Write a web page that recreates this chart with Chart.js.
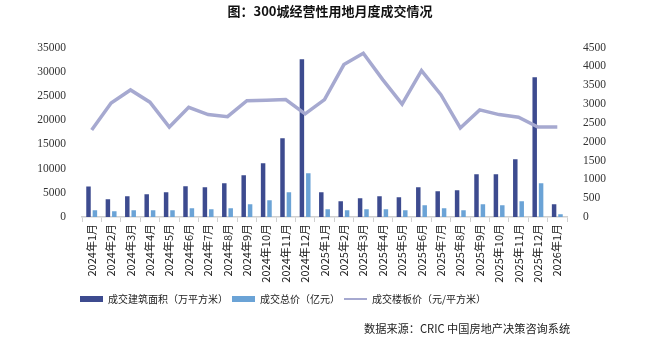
<!DOCTYPE html>
<html>
<head>
<meta charset="utf-8">
<script src="https://cdn.jsdelivr.net/npm/chart.js@4"></script>
<style>
  html, body { margin: 0; padding: 0; background: #ffffff; }
  #wrap { position: relative; width: 660px; height: 350px; }
  #source { position: absolute; left: 364px; top: 320px; font-family: "Noto Sans CJK SC", sans-serif; font-size: 11.2px; line-height: 16px; color: #222; white-space: nowrap; }
</style>
</head>
<body>
<div id="wrap">
  <canvas id="c" width="660" height="350"></canvas>
  <div id="source">数据来源：CRIC 中国房地产决策咨询系统</div>
</div>
<script>
const categories = [
  "2024年1月","2024年2月","2024年3月","2024年4月","2024年5月","2024年6月",
  "2024年7月","2024年8月","2024年9月","2024年10月","2024年11月","2024年12月",
  "2025年1月","2025年2月","2025年3月","2025年4月","2025年5月","2025年6月",
  "2025年7月","2025年8月","2025年9月","2025年10月","2025年11月","2025年12月",
  "2026年1月"
];
const areaValues = [
  6300, 3650, 4270, 4690, 5100, 6340, 6130, 6960, 8610, 11100, 16260, 32600,
  5100, 3240, 3860, 4270, 4070, 6130, 5310, 5510, 8820, 8820, 11920, 28880,
  2620
];
const totalPriceValues = [
  1380, 1170, 1380, 1380, 1380, 1790, 1590, 1790, 2620, 3450, 5100, 9030,
  1590, 1380, 1590, 1590, 1380, 2410, 1790, 1380, 2620, 2410, 3240, 6960,
  550
];
const floorPriceValues = [
  2310, 3030, 3375, 3050, 2390, 2915, 2720, 2665, 3090, 3100, 3120, 2740,
  3120, 4050, 4350, 3650, 3000, 3890, 3250, 2365, 2845, 2720, 2650, 2390,
  2390
];
const leftTicks = [0, 5000, 10000, 15000, 20000, 25000, 30000, 35000];
const rightTicks = [0, 500, 1000, 1500, 2000, 2500, 3000, 3500, 4000, 4500];
const seriesNames = ["成交建筑面积（万平方米）", "成交总价（亿元）", "成交楼板价（元/平方米）"];
const titleText = "图：300城经营性用地月度成交情况";

const numFont = { family: "'Liberation Serif', serif", size: 11.5 };

const legendShift = {
  id: "legendShift",
  afterLayout(chart) {
    if (chart.legend) { chart.legend.left = 76; }
  }
};

new Chart(document.getElementById("c"), {
  data: {
    labels: categories,
    datasets: [
      {
        type: "line",
        label: seriesNames[2],
        data: floorPriceValues,
        yAxisID: "yR",
        borderColor: "#a6a9d0",
        backgroundColor: "#a6a9d0",
        borderWidth: 3.5,
        pointRadius: 0,
        tension: 0,
        order: 0
      },
      {
        type: "bar",
        label: seriesNames[0],
        data: areaValues,
        yAxisID: "yL",
        backgroundColor: "#3d4b8f",
        categoryPercentage: 0.66,
        barPercentage: 0.7,
        order: 1
      },
      {
        type: "bar",
        label: seriesNames[1],
        data: totalPriceValues,
        yAxisID: "yL",
        backgroundColor: "#6ba3d6",
        categoryPercentage: 0.66,
        barPercentage: 0.7,
        order: 1
      }
    ]
  },
  plugins: [legendShift],
  options: {
    responsive: false,
    animation: false,
    devicePixelRatio: 1,
    layout: { padding: { left: 0, right: 0, top: 0, bottom: 36 } },
    plugins: {
      title: {
        display: true,
        text: titleText,
        color: "#111",
        font: { family: "'Noto Sans CJK SC', sans-serif", size: 13, weight: "bold" },
        padding: { top: 3, bottom: 29 }
      },
      legend: {
        position: "bottom",
        align: "start",
        labels: {
          color: "#222",
          font: { family: "'Noto Sans CJK SC', sans-serif", size: 10 },
          usePointStyle: true,
          pointStyleWidth: 23,
          boxHeight: 6,
          padding: 4,
          generateLabels(chart) {
            const ds = chart.data.datasets;
            const order = [1, 2, 0];
            return order.map(i => ({
              text: ds[i].label,
              fillStyle: i === 0 ? "rgba(0,0,0,0)" : ds[i].backgroundColor,
              strokeStyle: i === 0 ? ds[i].borderColor : ds[i].backgroundColor,
              lineWidth: i === 0 ? 2 : 0,
              pointStyle: i === 0 ? "line" : "rect",
              datasetIndex: i,
              fontColor: "#222"
            }));
          }
        }
      },
      tooltip: { enabled: false }
    },
    scales: {
      x: {
        offset: true,
        border: { display: true, color: "#d0d0d0", width: 1.5 },
        grid: { display: true, offset: true, drawOnChartArea: false, drawTicks: true, tickLength: 5, color: "#d0d0d0" },
        ticks: {
          color: "#222",
          font: { family: "'Noto Sans CJK SC', sans-serif", size: 11 },
          minRotation: 90,
          maxRotation: 90,
          autoSkip: false,
          padding: 2
        },
        afterFit(s) { s.height = 73; }
      },
      yL: {
        position: "left",
        min: 0,
        max: 35000,
        border: { display: false },
        grid: { display: false },
        afterBuildTicks(s) { s.ticks = leftTicks.map(v => ({ value: v })); },
        ticks: { color: "#333", font: numFont, padding: 8, callback: v => String(v) },
        afterFit(s) { s.width = 82; }
      },
      yR: {
        position: "right",
        min: 0,
        max: 4500,
        border: { display: false },
        grid: { display: false },
        afterBuildTicks(s) { s.ticks = rightTicks.map(v => ({ value: v })); },
        ticks: { color: "#333", font: numFont, padding: 8, callback: v => String(v) },
        afterFit(s) { s.width = 93; }
      }
    }
  }
});
</script>
</body>
</html>
